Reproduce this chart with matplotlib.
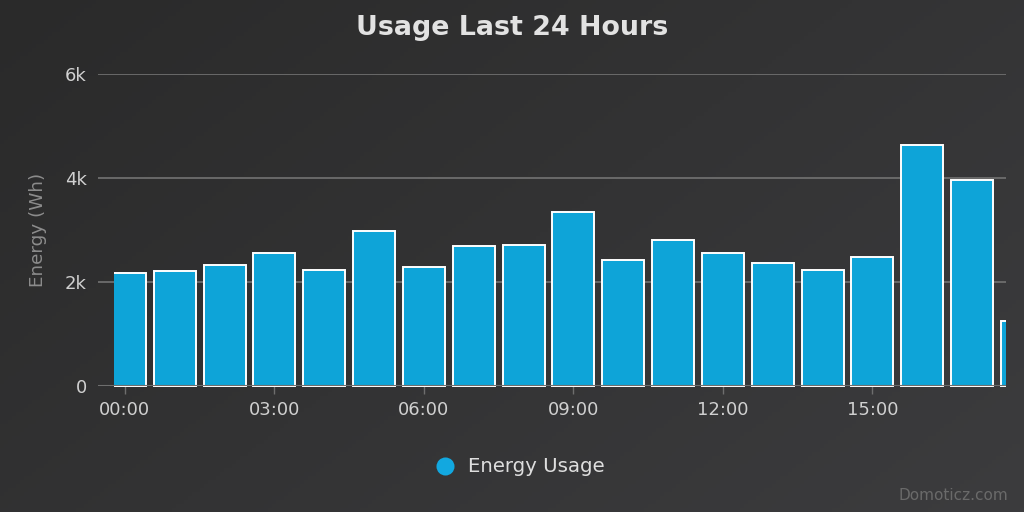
import numpy as np
import matplotlib
matplotlib.use("Agg")
import matplotlib.pyplot as plt
from matplotlib.patches import Rectangle
from matplotlib.lines import Line2D

hours = list(range(19))
usage_wh = [2167, 2205, 2327, 2564, 2231, 2981, 2295, 2686, 2712, 3340,
            2423, 2814, 2558, 2359, 2231, 2481, 4628, 3962, 1250]
tick_hours = [0, 3, 6, 9, 12, 15]
tick_labels = ["00:00", "03:00", "06:00", "09:00", "12:00", "15:00"]
y_ticks = [0, 2000, 4000, 6000]
y_tick_labels = ["0", "2k", "4k", "6k"]

bar_color = "#0ea4d8"
W, H = 1024, 512
fig = plt.figure(figsize=(W / 100, H / 100), dpi=100)
plt.rcParams["font.family"] = ["DejaVu Sans"]

# background gradient
bg = fig.add_axes([0, 0, 1, 1], zorder=-10)
xx, yy = np.meshgrid(np.linspace(0, 1, 256), np.linspace(0, 1, 128))
g = (xx * 0.6 + yy * 0.4)
c0 = np.array([0x2a, 0x2a, 0x2a]) / 255
c1 = np.array([0x3c, 0x3c, 0x3e]) / 255
img = c0[None, None, :] * (1 - g[..., None]) + c1[None, None, :] * g[..., None]
bg.imshow(img, aspect="auto", extent=[0, 1, 0, 1], origin="upper")
bg.axis("off")

xmin, xmax = -0.54, 17.68
ax = fig.add_axes([98 / W, 1 - 386 / H, (1006 - 98) / W, (386 - 74) / H])
ax.set_facecolor("none")
ax.set_xlim(xmin, xmax)
ax.set_ylim(0, 6000)

bars = ax.bar(hours, usage_wh, width=0.843, color=bar_color,
              edgecolor="white", linewidth=1.4, zorder=3)
clip = Rectangle((-0.22, -100), xmax + 0.22, 7000, transform=ax.transData)
for b in bars:
    b.set_clip_path(clip)

for yv in y_ticks[1:]:
    ax.axhline(yv, color="#6e6e6e", lw=1.3, zorder=1)
ax.axhline(0, color="#6e6e6e", lw=1.5, zorder=4)

for s in ax.spines.values():
    s.set_visible(False)

ax.set_yticks(y_ticks)
ax.set_yticklabels(y_tick_labels, fontsize=13, color="#d0d0d0")
ax.tick_params(axis="y", length=0, pad=8)
ax.set_xticks(tick_hours)
ax.set_xticklabels(tick_labels, fontsize=13, color="#d0d0d0")
ax.tick_params(axis="x", length=5.5, width=1, color="#6e6e6e", pad=5.5)

fig.text(512 / W, 1 - 28 / H, "Usage Last 24 Hours", ha="center", va="center",
         fontweight="bold", fontsize=19.4, color="#e2e2e2")
fig.text(38 / W, 1 - 230 / H, "Energy (Wh)", ha="center", va="center", rotation=90,
         fontsize=13.2, color="#8c8c8c")

leg_handle = Line2D([], [], marker="o", linestyle="none", markersize=13,
                    markerfacecolor="#12a8e0", markeredgecolor="none")
fig.legend([leg_handle], ["Energy Usage"], loc="center", bbox_to_anchor=(520 / W, 1 - 467 / H),
           frameon=False, prop={"size": 14.2},
           labelcolor="#dedede", handletextpad=0.65, handlelength=1.0)

fig.text(1008 / W, 1 - 496 / H, "Domoticz.com", ha="right", va="center",
         fontsize=11, color="#6a6a6a")

fig.savefig("out.png", dpi=100)
